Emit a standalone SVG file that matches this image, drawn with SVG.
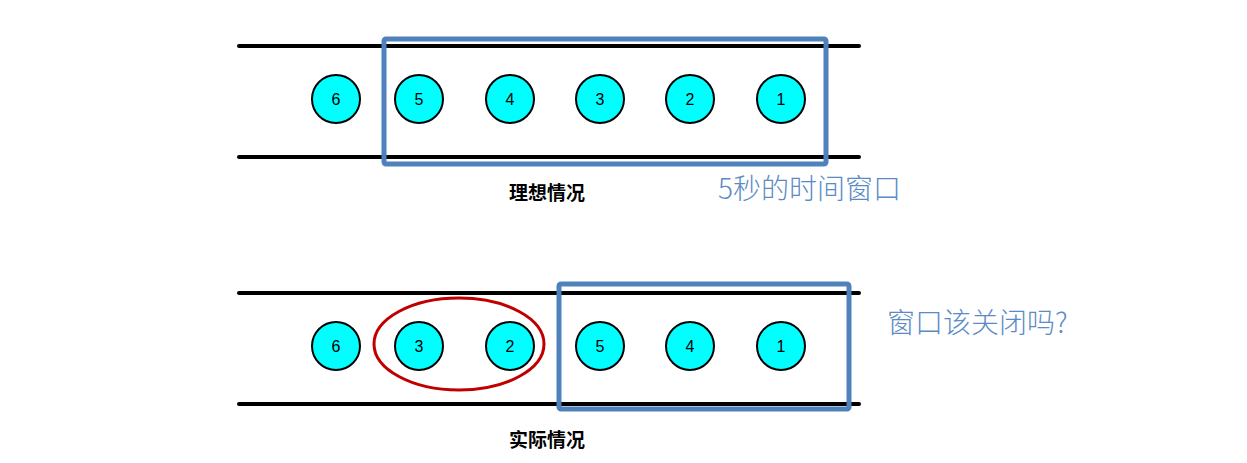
<svg xmlns="http://www.w3.org/2000/svg" width="1247" height="463" viewBox="0 0 1247 463">
<style>
.lane{stroke:#000;stroke-width:4;stroke-linecap:round}
.ball{fill:#00ffff;stroke:#000;stroke-width:2}
.num{font-family:"Liberation Sans",Arial,sans-serif;font-size:16px;fill:#000;text-anchor:middle;dominant-baseline:central}
.win{fill:none;stroke:#4f81bd;stroke-width:5}
.cap{font-family:"Noto Sans CJK SC","Noto Sans",sans-serif;font-weight:bold;font-size:19px;fill:#000;text-anchor:middle}
.note{font-family:"Noto Sans CJK SC","Noto Sans",sans-serif;font-weight:300;font-size:28px;fill:#5b8bc6}
</style>
<rect width="1247" height="463" fill="#fff"/>
<g id="lanes">
<line class="lane" x1="239" y1="46" x2="859" y2="46"/>
<line class="lane" x1="239" y1="157" x2="859" y2="157"/>
<line class="lane" x1="239" y1="293" x2="859" y2="293"/>
<line class="lane" x1="239" y1="404" x2="859" y2="404"/>
</g>
<g id="top-6"><circle class="ball" cx="336" cy="99" r="24"/><text class="num" x="336" y="99">6</text></g>
<g id="top-5"><circle class="ball" cx="419" cy="99" r="24"/><text class="num" x="419" y="99">5</text></g>
<g id="top-4"><circle class="ball" cx="510" cy="99" r="24"/><text class="num" x="510" y="99">4</text></g>
<g id="top-3"><circle class="ball" cx="600" cy="99" r="24"/><text class="num" x="600" y="99">3</text></g>
<g id="top-2"><circle class="ball" cx="690" cy="99" r="24"/><text class="num" x="690" y="99">2</text></g>
<g id="top-1"><circle class="ball" cx="781" cy="99" r="24"/><text class="num" x="781" y="99">1</text></g>
<g id="top-window"><rect class="win" x="384" y="39" width="442" height="125" rx="2"/></g>
<g id="top-caption"><text class="cap" x="547" y="200">理想情况</text></g>
<g id="top-note"><text class="note" x="718" y="199">5秒的时间窗口</text></g>

<g id="bot-6"><circle class="ball" cx="336" cy="346" r="24"/><text class="num" x="336" y="346">6</text></g>
<g id="bot-3"><circle class="ball" cx="419" cy="346" r="24"/><text class="num" x="419" y="346">3</text></g>
<g id="bot-2"><circle class="ball" cx="510" cy="346" r="24"/><text class="num" x="510" y="346">2</text></g>
<g id="bot-5"><circle class="ball" cx="600" cy="346" r="24"/><text class="num" x="600" y="346">5</text></g>
<g id="bot-4"><circle class="ball" cx="690" cy="346" r="24"/><text class="num" x="690" y="346">4</text></g>
<g id="bot-1"><circle class="ball" cx="781" cy="346" r="24"/><text class="num" x="781" y="346">1</text></g>
<g id="late-ellipse"><ellipse cx="459" cy="344" rx="85" ry="46" fill="none" stroke="#c00000" stroke-width="3"/></g>
<g id="bot-window"><rect class="win" x="559" y="284" width="290" height="125" rx="2"/></g>
<g id="bot-caption"><text class="cap" x="547" y="447">实际情况</text></g>
<g id="bot-note"><text class="note" x="887" y="333">窗口该关闭吗?</text></g>
</svg>
